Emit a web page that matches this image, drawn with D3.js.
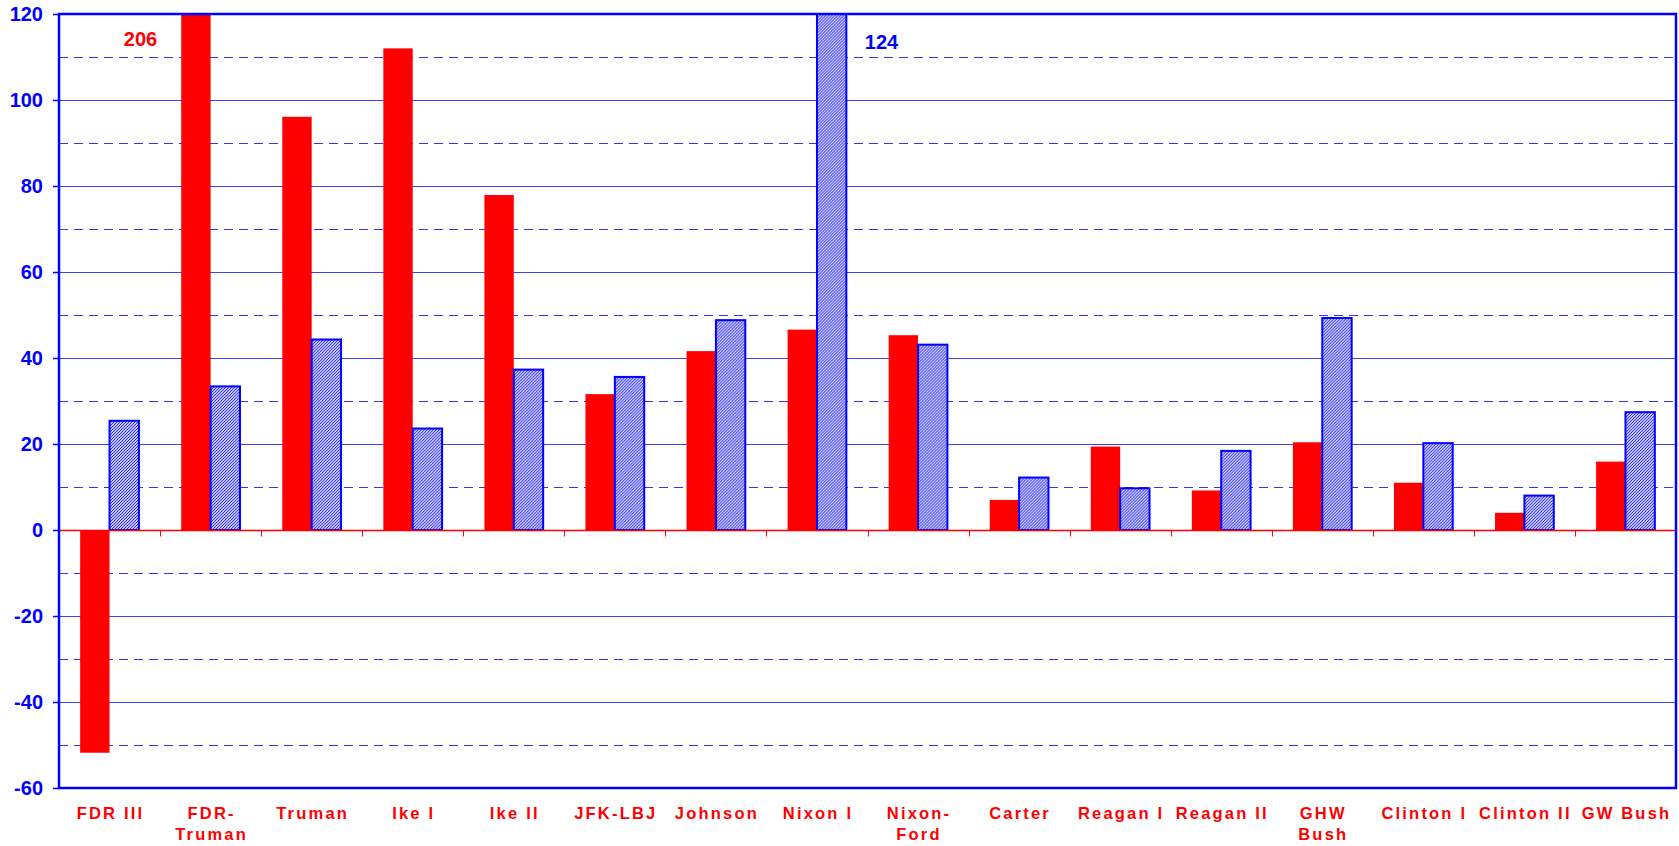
<!DOCTYPE html>
<html>
<head>
<meta charset="utf-8">
<script src="https://cdn.jsdelivr.net/npm/d3@7"></script>
<style>
  body { margin: 0; background: #fff; }
  svg { display: block; font-family: Arial, 'Liberation Sans', sans-serif; }
</style>
</head>
<body>
<svg id="chart" width="1679" height="846"></svg>
<script>
// Categories (terms)
const categories = ['FDR III', 'FDR-Truman', 'Truman', 'Ike I', 'Ike II', 'JFK-LBJ', 'Johnson', 'Nixon I',
  'Nixon-Ford', 'Carter', 'Reagan I', 'Reagan II', 'GHW Bush', 'Clinton I', 'Clinton II', 'GW Bush'];
const labelLines = [['FDR III'], ['FDR-', 'Truman'], ['Truman'], ['Ike I'], ['Ike II'], ['JFK-LBJ'], ['Johnson'], ['Nixon I'],
  ['Nixon-', 'Ford'], ['Carter'], ['Reagan I'], ['Reagan II'], ['GHW', 'Bush'], ['Clinton I'], ['Clinton II'], ['GW Bush']];

// Series values
const redValues = [-51.8, 206, 96.1, 112, 77.9, 31.6, 41.6, 46.6, 45.3, 7.0, 19.4, 9.2, 20.4, 11.0, 4.0, 15.9];
const blueValues = [25.4, 33.4, 44.3, 23.6, 37.3, 35.6, 48.8, 124, 43.1, 12.2, 9.7, 18.4, 49.3, 20.2, 8.0, 27.4];

// Axis ticks
const yTicks = [-60, -40, -20, 0, 20, 40, 60, 80, 100, 120];
const yDashed = [-50, -30, -10, 10, 30, 50, 70, 90, 110];

const svg = d3.select('#chart');
const plotLeft = 59, plotRight = 1676, plotTop = 14, plotBottom = 788;

const x0 = d3.scaleBand().domain(categories).range([plotLeft, plotRight]).padding(0);
const x1 = d3.scaleBand().domain(['red', 'blue']).range([0, x0.bandwidth()])
  .paddingInner(0).paddingOuter(0.72);
const y = d3.scaleLinear().domain([-60, 120]).range([plotBottom, plotTop]).clamp(true);
const yc = v => Math.round(y(v)) + 0.5;

// hatch pattern for the blue series
const defs = svg.append('defs');
const pat = defs.append('pattern')
  .attr('id', 'hatch')
  .attr('patternUnits', 'userSpaceOnUse')
  .attr('width', 3).attr('height', 3);
pat.append('rect').attr('width', 3).attr('height', 3).attr('fill', '#ffffff');
pat.append('path')
  .attr('d', 'M0,3 L3,0 M-1,1 L1,-1 M2,4 L4,2')
  .attr('stroke', '#3030ff')
  .attr('stroke-width', 1.2);

// grid lines
svg.append('g').selectAll('line')
  .data(yDashed)
  .join('line')
  .attr('x1', plotLeft).attr('x2', plotRight)
  .attr('y1', d => yc(d)).attr('y2', d => yc(d))
  .attr('stroke', '#3333ff')
  .attr('stroke-width', 1)
  .attr('stroke-dasharray', '9,6');

svg.append('g').selectAll('line')
  .data(yTicks.filter(d => d !== 0 && d !== -60 && d !== 120))
  .join('line')
  .attr('x1', plotLeft).attr('x2', plotRight)
  .attr('y1', d => yc(d)).attr('y2', d => yc(d))
  .attr('stroke', '#4040ff')
  .attr('stroke-width', 1);

// bars
const groups = svg.append('g').selectAll('g')
  .data(categories)
  .join('g')
  .attr('transform', d => `translate(${x0(d)},0)`);

groups.append('rect')
  .attr('x', x1('red'))
  .attr('width', x1.bandwidth())
  .attr('y', (d, i) => y(Math.max(0, redValues[i])))
  .attr('height', (d, i) => Math.abs(y(redValues[i]) - y(0)))
  .attr('fill', '#ff0000');

groups.append('rect')
  .attr('x', x1('blue'))
  .attr('width', x1.bandwidth())
  .attr('y', (d, i) => y(Math.max(0, blueValues[i])))
  .attr('height', (d, i) => Math.abs(y(blueValues[i]) - y(0)))
  .attr('fill', 'url(#hatch)')
  .attr('stroke', '#0000ff')
  .attr('stroke-width', 2);

// zero line with tick marks
svg.append('line')
  .attr('x1', plotLeft).attr('x2', plotRight)
  .attr('y1', yc(0)).attr('y2', yc(0))
  .attr('stroke', '#ff0000').attr('stroke-width', 1.5);

svg.append('g').selectAll('line')
  .data(categories.slice(1))
  .join('line')
  .attr('x1', d => Math.round(x0(d)) + 0.5).attr('x2', d => Math.round(x0(d)) + 0.5)
  .attr('y1', yc(0)).attr('y2', yc(0) + 6)
  .attr('stroke', '#ff0000').attr('stroke-width', 1);

// plot frame
svg.append('rect')
  .attr('x', plotLeft).attr('y', plotTop)
  .attr('width', plotRight - plotLeft).attr('height', plotBottom - plotTop)
  .attr('fill', 'none')
  .attr('stroke', '#0000ff')
  .attr('stroke-width', 2.5);

// y axis
const yAxis = svg.append('g')
  .attr('transform', `translate(${plotLeft},0)`)
  .call(d3.axisLeft(y).tickValues(yTicks).tickSize(6).tickPadding(10).tickFormat(d => String(d)));
yAxis.select('.domain').remove();
yAxis.selectAll('line').attr('stroke', '#0000ff').attr('stroke-width', 1.5);
yAxis.selectAll('text')
  .attr('fill', '#0000ff')
  .attr('font-size', '20px')
  .attr('font-weight', 'bold')
  .attr('font-family', "Arial, 'Liberation Sans', sans-serif");

// x labels
const xLabels = svg.append('g').selectAll('text')
  .data(categories)
  .join('text')
  .attr('text-anchor', 'middle')
  .attr('fill', '#ff0000')
  .attr('font-size', '16.5px')
  .attr('font-weight', 'bold')
  .attr('letter-spacing', '2.2px')
  .attr('y', 819);
xLabels.selectAll('tspan')
  .data((d, i) => labelLines[i].map(t => ({ t, c: d })))
  .join('tspan')
  .attr('x', d => x0(d.c) + x0.bandwidth() / 2 + 1)
  .attr('dy', (d, j) => j === 0 ? 0 : 21)
  .text(d => d.t);

// value labels for clipped bars
svg.append('text')
  .attr('x', x0('FDR III') + x0.bandwidth() / 2 + 31)
  .attr('y', 46)
  .attr('text-anchor', 'middle')
  .attr('fill', '#ff0000')
  .attr('font-size', '20px')
  .attr('font-weight', 'bold')
  .text(redValues[1]);

svg.append('text')
  .attr('x', x0('Nixon I') + x0.bandwidth() + 14)
  .attr('y', 49)
  .attr('text-anchor', 'middle')
  .attr('fill', '#0000ff')
  .attr('font-size', '20px')
  .attr('font-weight', 'bold')
  .text(blueValues[7]);
</script>
</body>
</html>
